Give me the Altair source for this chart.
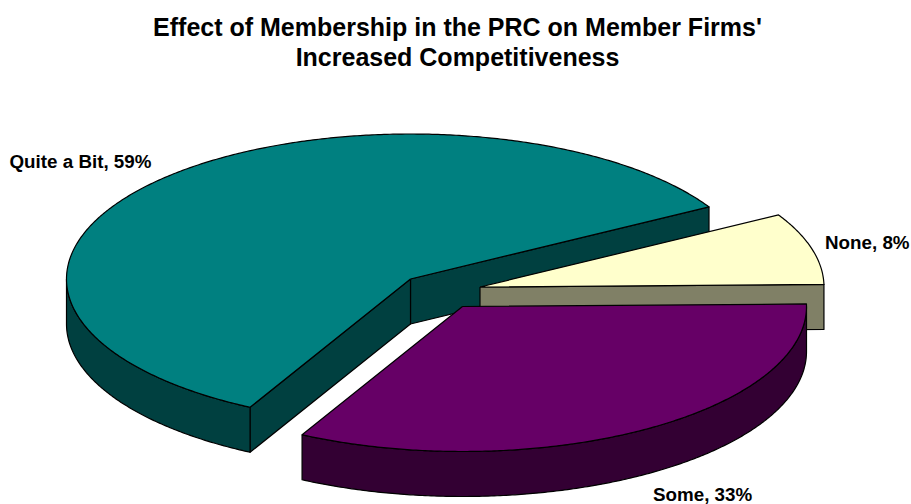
import math
import altair as alt
import pandas as pd

# Survey responses, in the order the slices run counter-clockwise
names = ["Quite a Bit", "Some", "None"]
shares = [59, 33, 8]
top_colours = ["#008080", "#660066", "#FFFFCC"]
side_colours = ["#004040", "#330033", "#808066"]

title_lines = ["Effect of Membership in the PRC on Member Firms'", "Increased Competitiveness"]

# Tilted-disc geometry, in the scale units of the two position axes
START_ANGLE = 29.8
RX, RY = 344, 145
DEPTH = 45
centres = [(410.5, 279), (462.5, 306.5), (480, 287)]
label_anchors = [(9.5, 162), (653, 495), (825, 243)]

TOP_MARGIN = 64
WIDTH, HEIGHT = 911, 504


def rim(cx, cy, a0, a1, drop=0.0):
    steps = max(2, int(abs(a1 - a0) * 2))
    pts = []
    for i in range(steps + 1):
        a = math.radians(a0 + (a1 - a0) * i / steps)
        pts.append((cx + RX * math.cos(a), cy - RY * math.sin(a) + drop))
    return pts


spans = []
angle = START_ANGLE
for share in shares:
    spans.append((angle, angle + share * 3.6))
    angle += share * 3.6

# Straight cut faces turned towards the viewer, per slice: 0 = start edge, 1 = end edge
visible_cuts = {0: [0, 1], 1: [], 2: [0]}

# Each face is a closed outline; slices are painted back to front
faces = []
for s in [0, 2, 1]:
    cx, cy = centres[s]
    a0, a1 = spans[s]

    for edge in visible_cuts[s]:
        rad = math.radians(spans[s][edge])
        px, py = cx + RX * math.cos(rad), cy - RY * math.sin(rad)
        faces.append((side_colours[s], [(cx, cy), (px, py), (px, py + DEPTH), (cx, cy + DEPTH), (cx, cy)]))

    # curved outer wall: only the front half of the rim shows
    w0, w1 = max(a0, 180), min(a1, 360)
    if w1 > w0:
        upper = rim(cx, cy, w0, w1)
        lower = rim(cx, cy, w1, w0, DEPTH)
        faces.append((side_colours[s], upper + lower + [upper[0]]))

    # flat top of the slice
    faces.append((top_colours[s], [(cx, cy)] + rim(cx, cy, a0, a1) + [(cx, cy)]))

x_scale = alt.Scale(domain=[0, WIDTH], range=[0, WIDTH], nice=False, zero=False)
y_scale = alt.Scale(domain=[HEIGHT, TOP_MARGIN], range=[HEIGHT - TOP_MARGIN, 0], nice=False, zero=False)

layers = []
for colour, pts in faces:
    df = pd.DataFrame({"x": [p[0] for p in pts], "y": [p[1] for p in pts], "i": range(len(pts))})
    layers.append(
        alt.Chart(df)
        .mark_line(fill=colour, stroke="#000000", strokeWidth=1.2, strokeJoin="round", interpolate="linear")
        .encode(
            x=alt.X("x:Q", scale=x_scale, axis=None),
            y=alt.Y("y:Q", scale=y_scale, axis=None),
            order="i:Q",
        )
    )

labels = pd.DataFrame({
    "x": [a[0] for a in label_anchors],
    "y": [a[1] for a in label_anchors],
    "text": [f"{n}, {v}%" for n, v in zip(names, shares)],
})
layers.append(
    alt.Chart(labels)
    .mark_text(align="left", baseline="middle", font="Liberation Sans", fontWeight="bold", fontSize=18.8, color="#000000")
    .encode(
        x=alt.X("x:Q", scale=x_scale, axis=None),
        y=alt.Y("y:Q", scale=y_scale, axis=None),
        text="text:N",
    )
)

chart = (
    alt.layer(*layers)
    .properties(
        width=WIDTH,
        height=HEIGHT - TOP_MARGIN,
        padding={"left": 0, "right": 0, "top": TOP_MARGIN, "bottom": 0},
        autosize=alt.AutoSizeParams(type="none"),
        background="#FFFFFF",
        title=alt.TitleParams(
            text=title_lines,
            anchor="middle",
            font="Liberation Sans",
            fontWeight="bold",
            fontSize=25,
            lineHeight=30,
            color="#000000",
            offset=-7,
            dx=2,
        ),
    )
    .configure_view(stroke=None)
)

chart.save("out.html", embed_options={"renderer": "svg", "actions": False})
